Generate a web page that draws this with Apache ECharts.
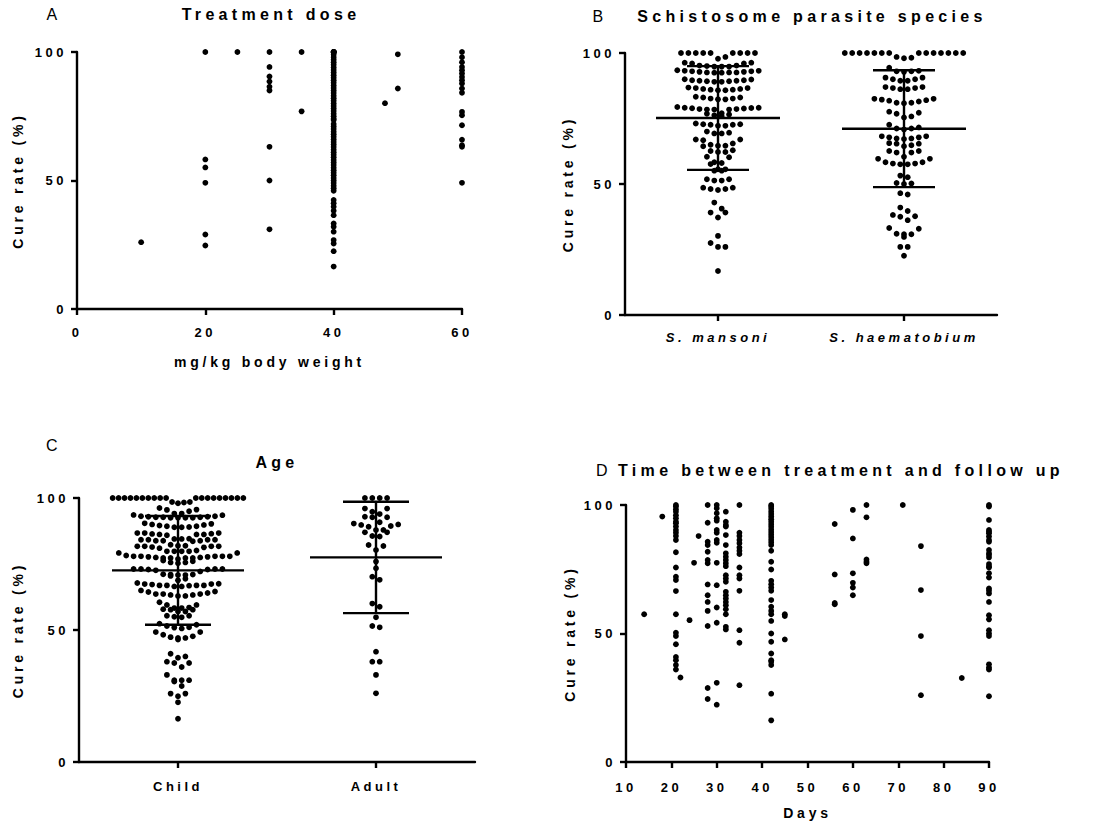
<!DOCTYPE html>
<html>
<head>
<meta charset="utf-8">
<script src="https://cdn.jsdelivr.net/npm/echarts@6/dist/echarts.min.js"></script>
<style>
html, body { margin: 0; padding: 0; background: #fff; }
#main { width: 1093px; height: 829px; }
#main text { letter-spacing: 0.27em; }
</style>
</head>
<body>
<div id="main"></div>
<script>
// ---------------- DATA ----------------
// Panel A: treatment dose (mg/kg) vs cure rate
const doseLevels = [10, 20, 25, 30, 35, 40, 48, 50, 60];
const doseCure = [
  [26.0],
  [100, 58.2, 55.1, 49.1, 29.0, 24.7],
  [100],
  [100, 94.2, 90.5, 88.5, 86.5, 85.0, 63.1, 50.0, 31.0],
  [100, 76.9],
  [100, 100, 100, 100, 100, 100, 99, 98, 97, 96, 95, 94, 93, 92, 91, 90, 89, 88, 87, 86, 85, 84, 83, 82, 81, 80,
   79, 78, 77, 76, 75, 74, 73.5, 72, 71, 70, 69, 68, 67, 66, 65, 64, 63, 62, 61, 60, 59, 58, 57, 56, 55, 54, 53,
   52, 51, 50, 49, 48, 47, 46, 42.4, 41.1, 39.8, 38.2, 36.5, 33.3, 32.0, 30.1, 26.8, 25.5, 22.5, 16.5],
  [80.1],
  [99.1, 85.8],
  [100, 98, 96, 94.2, 92.9, 91.6, 90.3, 89.0, 87.7, 85.8, 84.1, 76.7, 75.4, 71.5, 65.9, 63.7, 63.1, 49.1]
];

// Panel B: parasite species
const speciesCats = ['S. mansoni', 'S. haematobium'];
const mansoniCure = [
  100, 100, 100, 100, 100, 100, 100, 100, 100, 98.5, 97.8,
  96.3, 96, 96, 96.3, 95.2, 94.8, 94.8, 94.8, 95, 95.2,
  93.2, 93, 92.8, 92.6, 92.6, 92.5, 92.5, 92.6, 92.8, 93, 93.2, 93.4,
  89.9, 89.6, 89.4, 89.2, 89.0, 89.0, 89.2, 89.4, 89.6, 90,
  86.6, 86.3, 86.0, 85.8, 85.8, 86.0, 86.3, 86.6, 86.8,
  83.0, 82.6, 82.3, 82.3, 82.6, 83.0, 83.3,
  79.1, 78.9, 78.6, 78.4, 78.4, 78.4, 78.6, 78.8, 79.0, 79.1, 79.4,
  76.8, 76.2, 75.9, 76.5, 77,
  72.8, 72.6, 72.2, 72.2, 72.6, 72.8, 73.1,
  69.6, 69.3, 69.3, 70, 67, 66.7, 67,
  65.0, 64.6, 64.4, 64.6, 65.5, 62.6, 62.2, 62.2, 62.9, 60.4, 60.2,
  58, 57.6, 58.3, 55.6, 55.1, 55.1, 55.6,
  51.8, 51.3, 51.3, 51.8, 48.6, 48.1, 47.7, 48.1, 48.6,
  42.9, 40.6, 39.1, 39.1, 37.2, 30.2, 27.5, 26, 26, 16.8
];
const haematobiumCure = [
  100, 100, 100, 100, 100, 100, 100, 100, 100, 100, 100, 100, 100, 100, 98.5, 98, 98.2,
  94.4, 93.2, 93, 92.8, 93,
  90.6, 90, 89.4, 89.4, 90, 90.6,
  87, 86.6, 86.2, 86.2, 86.6, 87,
  82.5, 82.2, 81.8, 81.0, 80.8, 81.0, 81.5, 82, 82.5,
  77.2, 76.8, 77.6, 75.8, 75.4,
  71.6, 71.2, 72.6, 70.8, 71.2,
  68.2, 67.8, 67.4, 67.2, 67.4, 67.8, 68.2,
  65.6, 65.4, 65.4, 64.8, 64.4,
  62.6, 62.0, 62.0, 62.6, 60.4,
  59.6, 58.3, 57.8, 57.5, 57.5, 57.8, 58.3, 59.6,
  53.2, 52.6, 50.4, 50.0, 50.2, 46.5, 46.0,
  41.0, 39.7, 38.2, 37.5, 36.2, 37.7,
  32.9, 31.0, 29.8, 30.8, 30.8, 33.2, 26.0, 26.0, 22.6
];
const speciesMean = [75.2, 71.1];
const speciesSD = [19.8, 22.3];

// Panel C: age
const ageCats = ['Child', 'Adult'];
const childCure = [
  100, 100, 100, 100, 100, 100, 100, 100, 100, 100, 100, 100, 100, 100, 100, 100, 100, 100, 100,
  98.5, 98.5, 98, 98.3,
  96.2, 95.6, 95, 95.5,
  94.1, 93.6, 93.1, 92.7, 92.7, 92.5, 92.5, 92.5, 92.5, 92.7, 92.9, 92.9, 93.1, 93.5, 94.1,
  90.2, 89.8, 89.3, 89, 88.9, 88.9, 89.3, 89.6, 90, 90.4,
  86.7, 86.2, 86.2, 85.9, 86.2, 86.4, 86.7, 86.5, 86.7,
  84.5, 84.2, 83.8, 84.2, 83.8, 83.6, 83.8, 84.2, 84.5, 84.2, 84.6,
  81.0, 81.7, 81.9, 81.4, 81.7, 81.9, 81.7, 81.7, 82.3, 81.3,
  79.8, 79.8, 79.2, 79.2, 79.8, 79.8, 80.1,
  77.9, 77.9, 77.5, 77.5, 77.3, 77.3, 77.3, 76.9, 77.3, 77.7, 77.7, 77.9, 77.9, 77.9, 78.2,
  76.0, 75.6, 75.3, 75.6, 76.3,
  73.1, 72.6, 73.1, 72.9, 72.2, 72.9, 73.1, 73.1,
  70.8, 70.5, 70.8, 71.0, 71.0, 71.1, 69.4, 68.8,
  67.5, 67.2, 66.9, 66.8, 66.5, 66.5, 66.9, 66.9, 66.9, 67.4, 67.4, 67.8,
  64.6, 64.4, 64.0, 63.6, 63.6, 63.3, 62.9, 62.9, 63.3, 63.6, 65.0,
  60.5, 59.5, 58.3, 58.3, 57.7, 57.0, 57.0, 57.7, 57.9, 58.5, 59.5,
  55.4, 54.8, 55.4, 55, 51.5, 52.4, 51.0, 52, 50.6, 50.9,
  49.2, 48.2, 47.3, 47.0, 46.4, 47.0, 47.6, 49.2,
  41, 40, 39.5, 38, 37.5, 37.5, 36, 33, 31, 31, 30.5, 31,
  28.8, 25.9, 25.9, 24.9, 22.6, 16.4
];
const adultCure = [
  100, 100, 100, 100, 96, 96, 94.8, 93.9, 92.9, 92.7, 92.7,
  90.8, 90, 89.4, 89.1, 89.8, 90.3, 87.9, 87, 85.4, 85.6, 87, 87.9,
  81.8, 82.2, 80.3, 75.9, 73.4, 70.2, 69, 60, 58.8, 54.8, 51.5, 51,
  41.8, 38, 38, 33, 26
];
const ageMean = [72.6, 77.5];
const ageSD = [20.6, 21.1];

// Panel D: days between treatment and follow up
const dayLevels = [14, 18, 21, 22, 24, 25, 26, 28, 30, 32, 35, 42, 45, 56, 60, 63, 71, 75, 84, 90];
const dayCure = [
  [57.5],
  [95.5],
  [100, 99.4, 98.3, 97.4, 96, 94.8, 93.5, 92.9, 91.6, 90.3, 89.2, 87.9, 86.4, 81.6, 75.7, 72.1, 70.8, 66.5,
   57.5, 50.3, 49, 45.8, 40.9, 39.6, 37.7, 36.0],
  [32.9],
  [55.2],
  [77.5],
  [87.9],
  [100, 93.1, 85.7, 84.4, 81.8, 78.6, 77.3, 69.1, 64.9, 62.3, 58.8, 52.9, 28.8, 24.5],
  [100, 98.7, 96.8, 94.8, 93.9, 90.3, 89.2, 86.4, 85.3, 77.5, 68.8, 60.1, 54.2, 30.8, 22.3],
  [97.4, 93.5, 92.2, 91.6, 88.3, 84.4, 81.2, 79.9, 78.6, 77.3, 76.2, 72.7, 71.4, 70.1, 66.2, 64.9, 63.6, 62.3,
   61, 59.4, 57.5, 52.6, 51.6],
  [100, 89.2, 87.9, 86.4, 85.1, 83.5, 82.2, 80.9, 75.7, 72.7, 71.4, 66.6, 51.3, 46.4, 29.9],
  [100, 99.4, 98.5, 97.5, 96.5, 95.5, 94.5, 93.5, 92.5, 91.5, 90.5, 89.5, 88.5, 87.5, 86.5, 85.5, 84.4, 82.2,
   77.9, 74.9, 70.5, 69.2, 67.9, 66.6, 63, 60.4, 58.8, 57.5, 54.9, 50, 46.8, 42.2, 39.6, 39, 37.7, 26.6, 16.2],
  [57.5, 56.8, 47.7],
  [92.6, 73, 61.9, 61.4],
  [98.1, 87, 73.4, 69.7, 67.9, 64.9],
  [100, 95.2, 78.8, 77.9, 77.3],
  [100],
  [84, 66.9, 49, 26],
  [32.7],
  [100, 99.4, 94.2, 90.3, 89.6, 89, 87.7, 86.4, 85.7, 82.5, 81.2, 80.5, 79.6, 77, 76.2, 75.7, 73.4, 71.8,
   67.5, 66.6, 65.6, 62.3, 57.1, 55.5, 51.3, 50, 49, 38, 36.8, 36, 25.6]
];

const yTicks = [0, 50, 100];

// ---------------- HELPERS ----------------
const FONT = '"Liberation Sans", Arial, Helvetica, sans-serif';
const DOT = 5.8;

function pairs(levels, lists) {
  const out = [];
  levels.forEach((x, i) => lists[i].forEach(v => out.push([x, v])));
  return out;
}
function swarmData(groups) {
  const out = [];
  groups.forEach((vals, c) => vals.forEach((v, k) => out.push([c, v, k])));
  return out;
}
function layoutSwarm(ys, band) {
  const ROW_H = 6.5, GAP = 7.4, maxW = band * 0.66;
  const order = ys.map((y, i) => i).sort((a, b) => ys[a] - ys[b]);
  const rows = [];
  let cur = null;
  order.forEach(i => {
    if (!cur || ys[i] - ys[cur[0]] > ROW_H) { cur = [i]; rows.push(cur); }
    else cur.push(i);
  });
  const off = new Array(ys.length).fill(0);
  rows.forEach(row => {
    const n = row.length;
    const s = n > 1 ? Math.min(GAP, maxW / (n - 1)) : 0;
    const slots = [];
    for (let k = 0; k < n; k++) slots.push(k - (n - 1) / 2);
    slots.sort((a, b) => (Math.abs(a) - Math.abs(b)) || (b - a));
    const ordered = row.slice().sort((a, b) => ys[b] - ys[a]);
    ordered.forEach((i, j) => { off[i] = slots[j] * s; });
  });
  return off;
}
function swarmRenderer(groups) {
  let key = null, offs = null;
  return function (params, api) {
    const c = api.value(0), k = api.value(2);
    const band = api.size([1, 0])[0];
    const kk = params.coordSys.y + '|' + params.coordSys.height + '|' + band;
    if (kk !== key) {
      key = kk;
      offs = groups.map((vals, gi) => layoutSwarm(vals.map(v => api.coord([gi, v])[1]), band));
    }
    const p = api.coord([c, api.value(1)]);
    return { type: 'circle', shape: { cx: p[0] + offs[c][k], cy: p[1], r: DOT / 2 }, style: { fill: '#000' } };
  };
}
function meanSdRender(params, api) {
  const c = api.value(0), m = api.value(1), sd = api.value(2);
  const band = api.size([1, 0])[0];
  const pm = api.coord([c, m]), ph = api.coord([c, m + sd]), pl = api.coord([c, m - sd]);
  const x = pm[0], hw = band / 3, cw = band / 6;
  const st = { stroke: '#000', lineWidth: 2.4 };
  return { type: 'group', children: [
    { type: 'line', shape: { x1: x - hw, y1: pm[1], x2: x + hw, y2: pm[1] }, style: st },
    { type: 'line', shape: { x1: x, y1: ph[1], x2: x, y2: pl[1] }, style: st },
    { type: 'line', shape: { x1: x - cw, y1: ph[1], x2: x + cw, y2: ph[1] }, style: st },
    { type: 'line', shape: { x1: x - cw, y1: pl[1], x2: x + cw, y2: pl[1] }, style: st }
  ]};
}
function meanData(means, sds) { return means.map((m, i) => [i, m, sds[i]]); }

const axisLine = { show: true, onZero: false, lineStyle: { color: '#000', width: 2.4 } };
const axisTick = { show: true, length: 6, lineStyle: { color: '#000', width: 2.4 } };
const labelStyle = { color: '#000', fontFamily: FONT, fontWeight: 'bold', fontSize: 13 };
const nameStyle = { color: '#000', fontFamily: FONT, fontWeight: 'bold', fontSize: 14 };

function yAxis(gi, gap) {
  return {
    type: 'value', gridIndex: gi, min: yTicks[0], max: yTicks[yTicks.length - 1], interval: yTicks[1] - yTicks[0],
    axisLine, axisTick, splitLine: { show: false },
    axisLabel: Object.assign({ margin: 10 }, labelStyle),
    name: 'Cure rate (%)', nameLocation: 'middle', nameGap: gap, nameTextStyle: nameStyle
  };
}

// ---------------- CHART ----------------
const chart = echarts.init(document.getElementById('main'), null, { renderer: 'svg' });
const titleFont = 'bold 16px ' + FONT;
const letterFont = '16px ' + FONT;
function txt(x, y, text, font) {
  return { type: 'text', x, y, style: { text, font, fill: '#000', align: 'center', verticalAlign: 'middle' } };
}

chart.setOption({
  animation: false,
  backgroundColor: '#fff',
  graphic: [
    txt(54, 14, 'A', letterFont),
    txt(271, 14, 'Treatment dose', titleFont),
    txt(600, 16, 'B', letterFont),
    txt(812, 16, 'Schistosome parasite species', titleFont),
    txt(54, 445, 'C', letterFont),
    txt(277, 462, 'Age', titleFont),
    txt(604, 470, 'D', letterFont),
    txt(841, 470, 'Time between treatment and follow up', titleFont)
  ],
  grid: [
    { left: 77, top: 52, width: 385, height: 257 },
    { left: 625, top: 53, width: 372, height: 262 },
    { left: 79, top: 498, width: 396, height: 264 },
    { left: 626, top: 505, width: 363, height: 257 }
  ],
  xAxis: [
    { type: 'value', gridIndex: 0, min: 0, max: 60, interval: 20, axisLine, axisTick, splitLine: { show: false },
      axisLabel: Object.assign({ margin: 17 }, labelStyle),
      name: 'mg/kg body weight', nameLocation: 'middle', nameGap: 46, nameTextStyle: nameStyle },
    { type: 'category', gridIndex: 1, data: speciesCats, axisLine, axisTick: Object.assign({ alignWithLabel: true }, axisTick),
      axisLabel: Object.assign({ margin: 16, fontStyle: 'italic' }, labelStyle) },
    { type: 'category', gridIndex: 2, data: ageCats, axisLine, axisTick: Object.assign({ alignWithLabel: true }, axisTick),
      axisLabel: Object.assign({ margin: 18 }, labelStyle) },
    { type: 'value', gridIndex: 3, min: 10, max: 90, interval: 10, axisLine, axisTick, splitLine: { show: false },
      axisLabel: Object.assign({ margin: 19 }, labelStyle),
      name: 'Days', nameLocation: 'middle', nameGap: 44, nameTextStyle: nameStyle }
  ],
  yAxis: [yAxis(0, 52), yAxis(1, 50), yAxis(2, 54), yAxis(3, 49)],
  series: [
    { type: 'scatter', xAxisIndex: 0, yAxisIndex: 0, symbol: 'circle', symbolSize: DOT,
      itemStyle: { color: '#000', opacity: 1 }, data: pairs(doseLevels, doseCure) },
    { type: 'custom', xAxisIndex: 1, yAxisIndex: 1, encode: { x: 0, y: 1 },
      renderItem: swarmRenderer([mansoniCure, haematobiumCure]), data: swarmData([mansoniCure, haematobiumCure]) },
    { type: 'custom', xAxisIndex: 1, yAxisIndex: 1, encode: { x: 0, y: 1 },
      renderItem: meanSdRender, data: meanData(speciesMean, speciesSD) },
    { type: 'custom', xAxisIndex: 2, yAxisIndex: 2, encode: { x: 0, y: 1 },
      renderItem: swarmRenderer([childCure, adultCure]), data: swarmData([childCure, adultCure]) },
    { type: 'custom', xAxisIndex: 2, yAxisIndex: 2, encode: { x: 0, y: 1 },
      renderItem: meanSdRender, data: meanData(ageMean, ageSD) },
    { type: 'scatter', xAxisIndex: 3, yAxisIndex: 3, symbol: 'circle', symbolSize: DOT,
      itemStyle: { color: '#000', opacity: 1 }, data: pairs(dayLevels, dayCure) }
  ]
});
</script>
</body>
</html>
